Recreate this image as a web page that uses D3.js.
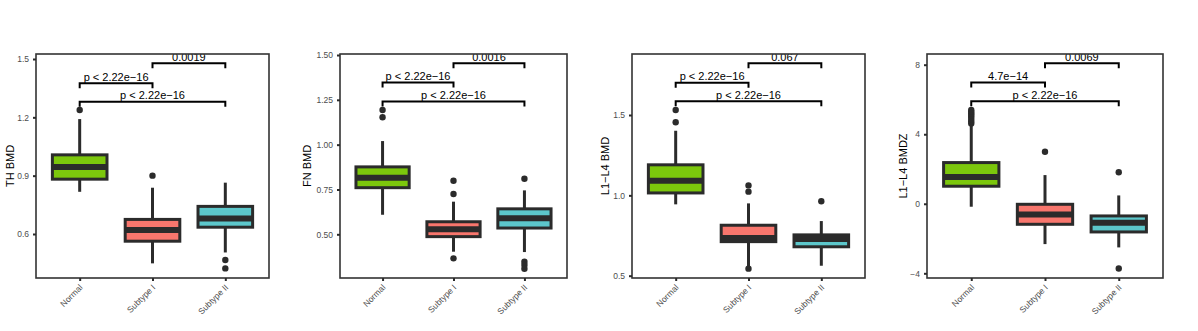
<!DOCTYPE html>
<html>
<head>
<meta charset="utf-8">
<script src="https://cdn.jsdelivr.net/npm/d3@7"></script>
<style>
  html, body { margin: 0; padding: 0; background: #ffffff; }
  svg { display: block; font-family: "Liberation Sans", Arial, Helvetica, sans-serif; }
</style>
</head>
<body>
<svg id="chart" width="1198" height="331"></svg>
<script>
// ---------------- data ----------------
const categories = ["Normal", "Subtype I", "Subtype II"];
const groupColors = ["#7cc70c", "#f8766d", "#5cc7cb"];
const yTitles = ["TH BMD", "FN BMD", "L1\u2212L4 BMD", "L1\u2212L4 BMDZ"];

// box stats per category: [lowerWhisker, q1, median, q3, upperWhisker]
const thStats = [[0.817, 0.882, 0.944, 1.007, 1.191], [0.449, 0.563, 0.620, 0.675, 0.838], [0.505, 0.635, 0.680, 0.742, 0.864]];
const fnStats = [[0.609, 0.760, 0.816, 0.876, 1.020], [0.403, 0.487, 0.528, 0.570, 0.682], [0.401, 0.535, 0.589, 0.642, 0.745]];
const l14Stats = [[0.944, 1.015, 1.091, 1.190, 1.402], [0.556, 0.712, 0.735, 0.814, 0.950], [0.562, 0.680, 0.728, 0.754, 0.840]];
const bmdzStats = [[-0.17, 1.01, 1.54, 2.37, 4.50], [-2.32, -1.18, -0.61, -0.03, 1.65], [-2.51, -1.62, -1.09, -0.70, 0.48]];

const thOutliers = [[1.238], [0.900], [0.466, 0.423]];
const fnOutliers = [[1.193, 1.153], [0.799, 0.725, 0.366], [0.810, 0.347, 0.329, 0.308]];
const l14Outliers = [[1.531, 1.455], [1.062, 1.023, 0.544], [0.963]];
const bmdzOutliers = [[4.62, 4.75, 4.88, 5.0, 5.1, 5.2, 5.3, 5.4], [2.99], [1.81, -3.72]];

const yDomains = [[0.3737, 1.5257], [0.2563, 1.5056], [0.4857, 1.8796], [-4.27, 8.616]];
const yTicks = [[0.6, 0.9, 1.2, 1.5], [0.50, 0.75, 1.00, 1.25, 1.50], [0.5, 1.0, 1.5], [-4, 0, 4, 8]];
const yTickFormats = [".1f", ".2f", ".1f", "d"];

// comparisons: [from, to]
const comparisons = [[0, 1], [0, 2], [1, 2]];
const thPLabels = ["p < 2.22e\u221216", "p < 2.22e\u221216", "0.0019"];
const fnPLabels = ["p < 2.22e\u221216", "p < 2.22e\u221216", "0.0016"];
const l14PLabels = ["p < 2.22e\u221216", "p < 2.22e\u221216", "0.067"];
const bmdzPLabels = ["4.7e\u221214", "p < 2.22e\u221216", "0.0069"];
const thBracketY = [1.375, 1.280, 1.478];
const fnBracketY = [1.346, 1.240, 1.454];
const l14BracketY = [1.701, 1.585, 1.822];
const bmdzBracketY = [6.97, 5.90, 8.08];

// ---------------- layout ----------------
const panels = [
  { stats: thStats, outliers: thOutliers, labels: thPLabels, by: thBracketY, x0: 36, x1: 269, titleOff: 26 },
  { stats: fnStats, outliers: fnOutliers, labels: fnPLabels, by: fnBracketY, x0: 340, x1: 567, titleOff: 33 },
  { stats: l14Stats, outliers: l14Outliers, labels: l14PLabels, by: l14BracketY, x0: 632, x1: 865, titleOff: 27 },
  { stats: bmdzStats, outliers: bmdzOutliers, labels: bmdzPLabels, by: bmdzBracketY, x0: 927, x1: 1163, titleOff: 24 }
];
const plotTop = 54, plotBottom = 278;
const dark = "#2b2b2b";

const svg = d3.select("#chart");
const defs = svg.append("defs");

panels.forEach((p, pi) => {
  const x = d3.scaleLinear().domain([0.4, 3.6]).range([p.x0, p.x1]);
  const y = d3.scaleLinear().domain(yDomains[pi]).range([plotBottom, plotTop]);
  const step = x(2) - x(1);
  const hw = step * 0.375;

  defs.append("clipPath").attr("id", "clip" + pi)
    .append("rect").attr("x", p.x0).attr("y", plotTop).attr("width", p.x1 - p.x0).attr("height", plotBottom - plotTop);

  const g = svg.append("g");
  const inner = g.append("g").attr("clip-path", `url(#clip${pi})`);

  const boxes = inner.selectAll("g.box").data(p.stats).join("g").attr("class", "box");
  boxes.append("line")
    .attr("x1", (d, i) => x(i + 1)).attr("x2", (d, i) => x(i + 1))
    .attr("y1", d => y(d[4])).attr("y2", d => y(d[3]))
    .attr("stroke", dark).attr("stroke-width", 3);
  boxes.append("line")
    .attr("x1", (d, i) => x(i + 1)).attr("x2", (d, i) => x(i + 1))
    .attr("y1", d => y(d[1])).attr("y2", d => y(d[0]))
    .attr("stroke", dark).attr("stroke-width", 3);
  boxes.append("rect")
    .attr("x", (d, i) => x(i + 1) - hw).attr("width", 2 * hw)
    .attr("y", d => y(d[3])).attr("height", d => y(d[1]) - y(d[3]))
    .attr("fill", (d, i) => groupColors[i])
    .attr("stroke", dark).attr("stroke-width", 3);
  boxes.append("line")
    .attr("x1", (d, i) => x(i + 1) - hw).attr("x2", (d, i) => x(i + 1) + hw)
    .attr("y1", d => y(d[2])).attr("y2", d => y(d[2]))
    .attr("stroke", dark).attr("stroke-width", 6);

  p.outliers.forEach((arr, i) => {
    inner.selectAll(null).data(arr).join("circle")
      .attr("cx", x(i + 1)).attr("cy", d => y(d)).attr("r", 3.2).attr("fill", dark);
  });

  comparisons.forEach((c, k) => {
    const yy = y(p.by[k]);
    const xa = x(c[0] + 1), xb = x(c[1] + 1);
    inner.append("path")
      .attr("d", `M${xa},${yy + 5}V${yy}H${xb}V${yy + 5}`)
      .attr("fill", "none").attr("stroke", "#000").attr("stroke-width", 2);
    inner.append("text")
      .attr("x", (xa + xb) / 2).attr("y", yy - 2.5)
      .attr("text-anchor", "middle").attr("font-size", 11).attr("fill", "#000")
      .text(p.labels[k]);
  });

  g.append("rect").attr("x", p.x0).attr("y", plotTop).attr("width", p.x1 - p.x0).attr("height", plotBottom - plotTop)
    .attr("fill", "none").attr("stroke", "#333").attr("stroke-width", 1.6);

  const yAxis = d3.axisLeft(y).tickValues(yTicks[pi]).tickFormat(d3.format(yTickFormats[pi])).tickSize(3).tickPadding(4);
  const ya = g.append("g").attr("transform", `translate(${p.x0},0)`).call(yAxis);
  ya.select(".domain").remove();
  ya.selectAll(".tick line").attr("stroke", dark).attr("stroke-width", 2);
  ya.selectAll(".tick text").attr("fill", "#4d4d4d").attr("font-size", 8.5)
    .attr("font-family", "'Liberation Sans', Arial, sans-serif");

  const xAxis = d3.axisBottom(x).tickValues([1, 2, 3]).tickFormat(d => categories[d - 1]).tickSize(3).tickPadding(3);
  const xa = g.append("g").attr("transform", `translate(0,${plotBottom})`).call(xAxis);
  xa.select(".domain").remove();
  xa.selectAll(".tick line").attr("stroke", dark).attr("stroke-width", 2);
  xa.selectAll(".tick text")
    .attr("fill", "#4d4d4d").attr("font-size", 8.5)
    .attr("font-family", "'Liberation Sans', Arial, sans-serif")
    .attr("text-anchor", "end")
    .attr("y", 0).attr("dy", 0)
    .attr("transform", "translate(3,10) rotate(-45)");

  g.append("text")
    .attr("transform", `translate(${p.x0 - p.titleOff},${(plotTop + plotBottom) / 2}) rotate(-90)`)
    .attr("text-anchor", "middle").attr("dy", "0.35em")
    .attr("font-size", 11).attr("fill", "#000")
    .text(yTitles[pi]);
});
</script>
</body>
</html>
